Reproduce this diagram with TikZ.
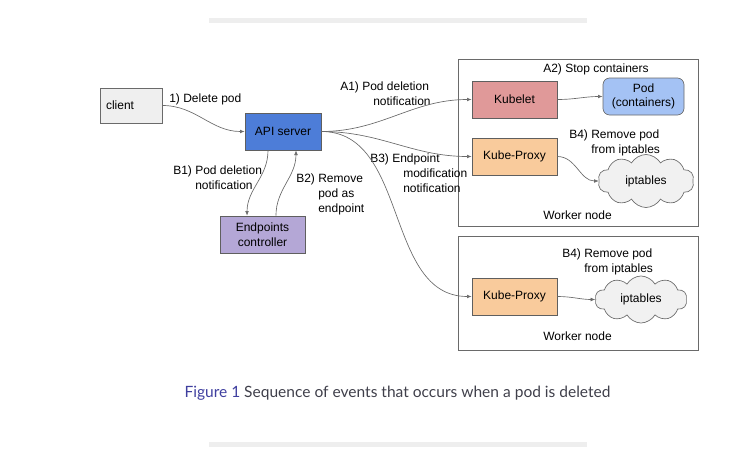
\documentclass[tikz,border=0pt]{standalone}
\usepackage{fontspec}
\setmainfont{Liberation Sans}
\newfontfamily\latofont{Lato}
\usetikzlibrary{arrows.meta,shapes.symbols}
\definecolor{bargray}{HTML}{EEEEEE}
\definecolor{boxline}{HTML}{5F5F5F}
\definecolor{linegray}{HTML}{6A6A6A}
\definecolor{clientfill}{HTML}{EFEFEF}
\definecolor{apiblue}{HTML}{4D7DD8}
\definecolor{endpfill}{HTML}{B4A7D6}
\definecolor{kubeletfill}{HTML}{E09999}
\definecolor{podfill}{HTML}{A4C2F4}
\definecolor{proxyfill}{HTML}{F9CB9C}
\definecolor{cloudfill}{HTML}{F1F1F1}
\definecolor{figblue}{HTML}{3F3F9F}
\definecolor{captext}{HTML}{3F3F4A}
\tikzset{
  box/.style={draw=boxline, line width=0.5pt, minimum width=85*0.75pt, minimum height=37*0.75pt, inner sep=0pt, align=center},
  frame/.style={draw=linegray, line width=0.6pt, minimum width=240*0.75pt, inner sep=0pt},
  iptcloud/.style={cloud, cloud puffs=10, cloud puff arc=120, aspect=2, draw=linegray, fill=cloudfill, line width=0.5pt, inner sep=0pt},
  lbl/.style={align=left, inner sep=0pt, anchor=north west},
  conn/.style={draw=linegray, line width=0.5pt, -{Latex[length=3.5pt,width=2.8pt]}}
}
\begin{document}
\begin{tikzpicture}[x=0.75pt, y=-0.75pt, font=\fontsize{9}{10.9}\selectfont]
\useasboundingbox (0,0) rectangle (751,457);
\fill[bargray] (209,18) rectangle (587,23);
\fill[bargray] (209,442) rectangle (587,447);
\node[frame, minimum height=167*0.75pt] (workera) at (578,142.5) {};
\node[frame, minimum height=114*0.75pt] (workerb) at (578,293) {};
\node[box, fill=clientfill, draw=linegray, minimum width=62*0.75pt, minimum height=35*0.75pt, text width=50*0.75pt, align=left] (client) at (131,105.5) {client};
\node[box, fill=apiblue, minimum width=76*0.75pt] (api) at (283,131.5) {API server};
\node[box, fill=endpfill] (endpoints) at (262.5,234.5) {Endpoints\\controller};
\node[box, fill=kubeletfill] (kubelet) at (514.5,99.5) {Kubelet};
\node[box, fill=podfill, draw=linegray, minimum width=81*0.75pt, rounded corners=5pt] (pod) at (643.5,96.5) {Pod\\(containers)};
\node[box, fill=proxyfill] (proxya) at (514.5,156.5) {Kube-Proxy};
\node[box, fill=proxyfill] (proxyb) at (514.5,296.5) {Kube-Proxy};
\node[iptcloud, minimum width=96*0.75pt, minimum height=53*0.75pt] (iptablesa) at (646,181) {iptables};
\node[iptcloud, minimum width=92*0.75pt, minimum height=47*0.75pt] (iptablesb) at (641,299.5) {iptables};
\node[lbl] (deletelbl) at (169,94) {1) Delete pod};
\node[lbl] (aonelbl) at (340,82) {A1) Pod deletion\\\hspace*{24.75pt}notification};
\node[lbl] (bonelbl) at (173,166) {B1) Pod deletion\\\phantom{B1) }notification};
\node[lbl] (btwolbl) at (296,174) {B2) Remove\\\phantom{B2) }pod as\\\phantom{B2) }endpoint};
\node[lbl] (bthreelbl) at (370,154) {B3) Endpoint\\\hspace*{24.75pt}modification\\\hspace*{24.75pt}notification};
\node[lbl] (atwolbl) at (543,64) {A2) Stop containers};
\node[lbl] (bfouralbl) at (569,130) {B4) Remove pod\\\phantom{B4) }from iptables};
\node[lbl] (bfourblbl) at (562,249) {B4) Remove pod\\\phantom{B4) }from iptables};
\node[lbl] (workeralbl) at (543,211) {Worker node};
\node[lbl] (workerblbl) at (543,332) {Worker node};
\node[font=\latofont\fontsize{11.65}{14}\selectfont, text=captext] (caption) at (397.5,393) {\textcolor{figblue}{Figure 1} Sequence of events that occurs when a pod is deleted};
\draw[conn] (client.east) to[out=0,in=180] (api.west);
\draw[conn] (api.east) to[out=0,in=180] (kubelet.west);
\draw[conn] (api.east) to[out=0,in=180] (proxya.west);
\draw[conn] (api.east) to[out=0,in=180] (proxyb.west);
\draw[conn] ([xshift=-11.25pt]api.south) to[out=-90,in=90] ([xshift=-11.6pt]endpoints.north);
\draw[conn] ([xshift=10.1pt]endpoints.north) to[out=90,in=-90] ([xshift=9.75pt]api.south);
\draw[conn] (kubelet.east) to[out=0,in=180] (pod.west);
\draw[conn] (proxya.east) to[out=0,in=180] (iptablesa.west);
\draw[conn] (proxyb.east) to[out=0,in=180] (iptablesb.west);
\end{tikzpicture}
\end{document}
